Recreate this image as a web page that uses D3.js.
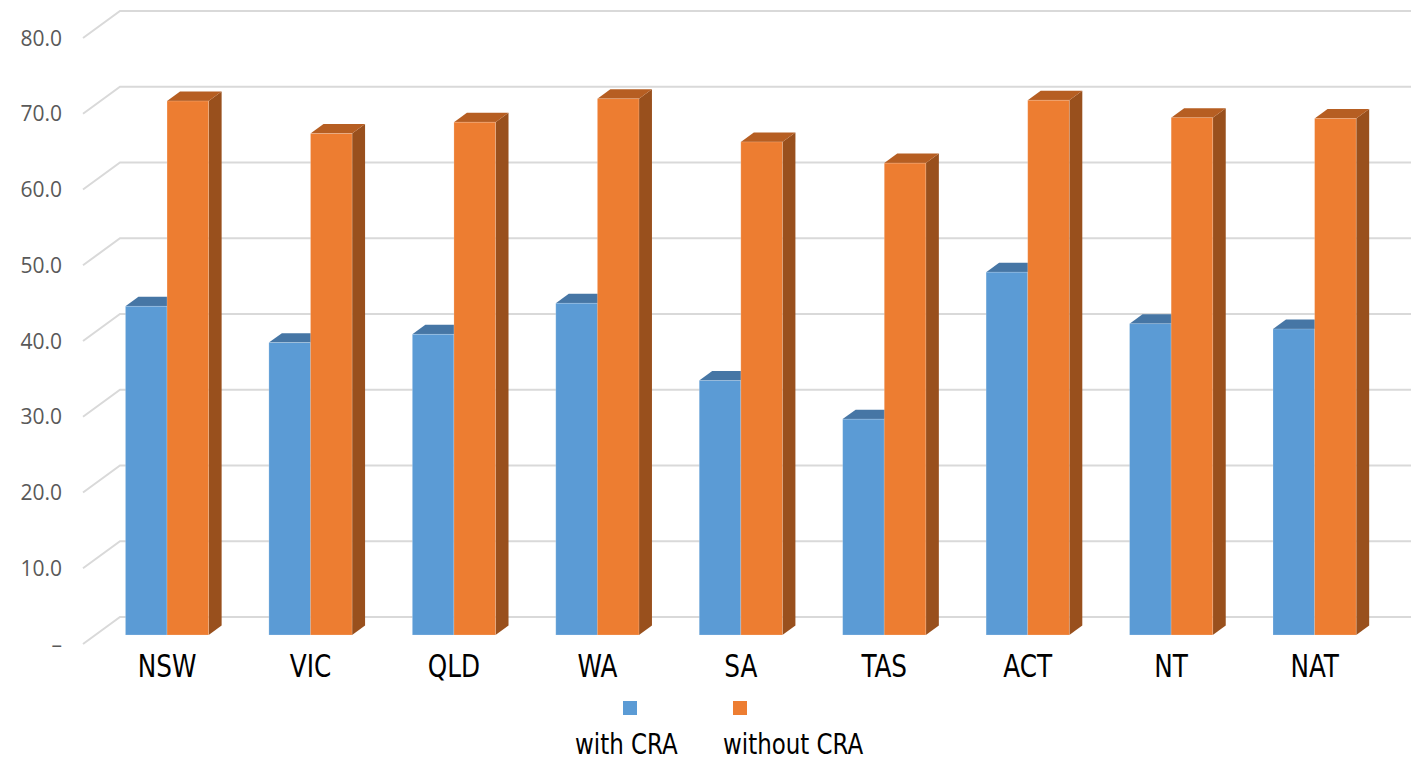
<!DOCTYPE html>
<html>
<head>
<meta charset="utf-8">
<script src="https://cdn.jsdelivr.net/npm/d3@7"></script>
<style>
  html, body { margin: 0; padding: 0; background: #ffffff; }
  svg { display: block; }
</style>
</head>
<body>
<svg id="chart" width="1422" height="762"></svg>
<script>
// ---- data ----
const categories = ["NSW", "VIC", "QLD", "WA", "SA", "TAS", "ACT", "NT", "NAT"];
const seriesNames = ["with CRA", "without CRA"];
const withCRA    = [43.4, 38.6, 39.7, 43.8, 33.6, 28.5, 47.9, 41.1, 40.4];
const withoutCRA = [70.5, 66.2, 67.7, 70.8, 65.1, 62.3, 70.6, 68.3, 68.2];
const yTicks = [0, 10, 20, 30, 40, 50, 60, 70, 80];
const yTickLabels = ["–", "10.0", "20.0", "30.0", "40.0", "50.0", "60.0", "70.0", "80.0"];

// ---- layout ----
const W = 1422, H = 762;
const frontLeft = 83, frontRight = 1374;
const DX = 37, DY = 27;          // full depth of the floor (oblique projection)
const f0 = 0.333, f1 = 0.684;    // bar depth, as fraction of the floor depth

const svg = d3.select("#chart");

const y = d3.scaleLinear().domain([0, 80]).range([644, 38]);
const x0 = d3.scaleBand().domain(categories).range([frontLeft, frontRight])
  .paddingInner(0.42).paddingOuter(0.21);
const x1 = d3.scaleBand().domain(seriesNames).range([0, x0.bandwidth()]);

const colors = {
  "with CRA":    { front: "#5b9bd5", top: "#4676a5", side: "#3d6893" },
  "without CRA": { front: "#ed7d31", top: "#b65e22", side: "#99501d" }
};

// ---- gridlines (left wall diagonals + back wall lines) ----
const grid = svg.append("g");
yTicks.forEach(v => {
  const yf = y(v);
  grid.append("path")
    .attr("d", `M${frontLeft},${yf} L${frontLeft + DX},${yf - DY} L${frontRight + DX},${yf - DY}`)
    .attr("fill", "none")
    .attr("stroke", "#d9d9d9")
    .attr("stroke-width", 2);
});

// ---- y tick labels ----
svg.append("g").selectAll("text").data(yTicks).join("text")
  .attr("x", 62)
  .attr("y", d => y(d))
  .attr("dy", "0.36em")
  .attr("text-anchor", "end")
  .attr("font-family", "'Open Sans', 'Noto Sans', sans-serif")
  .attr("font-size", 21)
  .attr("fill", "#595959")
  .text((d, i) => yTickLabels[i]);

// ---- bars ----
const rows = [];
categories.forEach((c, i) => {
  rows.push({ cat: c, s: "with CRA", v: withCRA[i] });
  rows.push({ cat: c, s: "without CRA", v: withoutCRA[i] });
});

const bw = x1.bandwidth();
const ox0 = f0 * DX, oy0 = f0 * DY, ox1 = f1 * DX, oy1 = f1 * DY;
const barG = svg.append("g");
rows.forEach(d => {
  const xl = x0(d.cat) + x1(d.s) + ox0;
  const xr = xl + bw;
  const yt = y(d.v) - oy0;
  const yb = y(0) - oy0;
  const ddx = ox1 - ox0, ddy = oy1 - oy0;
  const col = colors[d.s];
  const g = barG.append("g");
  // side face
  g.append("path")
    .attr("d", `M${xr},${yt} L${xr + ddx},${yt - ddy} L${xr + ddx},${yb - ddy} L${xr},${yb} Z`)
    .attr("fill", col.side);
  // top face
  g.append("path")
    .attr("d", `M${xl},${yt} L${xl + ddx},${yt - ddy} L${xr + ddx},${yt - ddy} L${xr},${yt} Z`)
    .attr("fill", col.top);
  // front face
  g.append("rect")
    .attr("x", xl).attr("y", yt)
    .attr("width", bw).attr("height", yb - yt)
    .attr("fill", col.front)
    .attr("stroke", "rgba(255,255,255,0.25)")
    .attr("stroke-width", 0.8);
});

// ---- category labels ----
const catFont = "'Liberation Sans Narrow', 'DejaVu Sans Condensed', 'Arial Narrow', sans-serif";
svg.append("g").selectAll("text").data(categories).join("text")
  .attr("transform", d => `translate(${x0(d) + x0.bandwidth() / 2 + ox0},677) scale(0.86,1)`)
  .attr("text-anchor", "middle")
  .attr("font-family", catFont)
  .attr("font-size", 32)
  .attr("fill", "#000")
  .text(d => d);

// ---- legend ----
const legendItems = [
  { name: "with CRA", sx: 623, tx: 575 },
  { name: "without CRA", sx: 733, tx: 723 }
];
const lg = svg.append("g");
legendItems.forEach(it => {
  lg.append("rect")
    .attr("x", it.sx).attr("y", 701).attr("width", 14).attr("height", 14)
    .attr("fill", colors[it.name].front);
  lg.append("text")
    .attr("transform", `translate(${it.tx},754) scale(0.88,1)`)
    .attr("font-family", catFont)
    .attr("font-size", 29)
    .attr("fill", "#000")
    .text(it.name);
});
</script>
</body>
</html>
